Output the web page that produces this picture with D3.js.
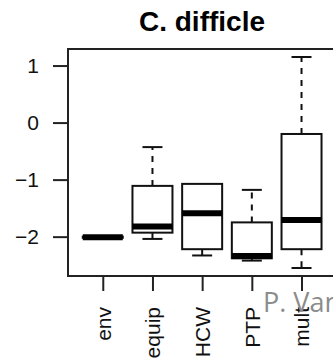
<!DOCTYPE html>
<html>
<head>
<meta charset="utf-8">
<script src="https://cdn.jsdelivr.net/npm/d3@7"></script>
<style>
  body { margin: 0; background: #fff; }
  svg { display: block; }
</style>
</head>
<body>
<script>
// box plot values
var categories = ["env", "equip", "HCW", "PTP", "mult"];
var lowWhisker = [-2.02, -2.04, -2.33, -2.42, -2.55];
var q1 = [-2.02, -1.93, -2.22, -2.38, -2.22];
var median = [-2.01, -1.82, -1.59, -2.34, -1.71];
var q3 = [-2.0, -1.11, -1.075, -1.75, -0.2];
var highWhisker = [-2.0, -0.43, -1.075, -1.18, 1.15];
var yTicks = [-2, -1, 0, 1];

var W = 333, H = 361;
var svg = d3.select("body").append("svg")
    .attr("width", W).attr("height", H);

var x = d3.scaleLinear().domain([0.3, 5.7]).range([68, 336.3]);
var y = d3.scaleLinear().domain([-2.69, 1.29]).range([276, 49]);
var halfW = 20;
var font = "Liberation Sans, Arial, sans-serif";

// title
svg.append("text")
    .attr("x", 202).attr("y", 31)
    .attr("text-anchor", "middle")
    .style("font-family", font)
    .style("font-weight", "bold")
    .style("font-size", "28px")
    .text("C. difficle");

// frame (right side is off the picture)
svg.append("rect")
    .attr("x", 68).attr("y", 49)
    .attr("width", 336.3 - 68).attr("height", 276 - 49)
    .attr("fill", "none").attr("stroke", "#222").attr("stroke-width", 2);

// y axis
var yAxis = svg.append("g")
    .attr("transform", "translate(68,0)")
    .call(d3.axisLeft(y).tickValues(yTicks).tickSize(15).tickPadding(14)
        .tickFormat(d3.format("d")));
yAxis.select(".domain").remove();
yAxis.selectAll("line").attr("stroke", "#222").attr("stroke-width", 2);
yAxis.selectAll("text")
    .style("font-family", font)
    .style("font-size", "21px").attr("fill", "#111");

// x axis, labels turned to read upwards
var xAxis = svg.append("g")
    .attr("transform", "translate(0,276)")
    .call(d3.axisBottom(x).tickValues([1, 2, 3, 4, 5]).tickSize(15)
        .tickFormat(function(d){ return categories[d - 1]; }));
xAxis.select(".domain").remove();
xAxis.selectAll("line").attr("stroke", "#222").attr("stroke-width", 2);
xAxis.selectAll("text")
    .attr("x", null).attr("y", null).attr("dy", "0.35em")
    .attr("transform", "translate(0,31) rotate(-90)")
    .attr("text-anchor", "end")
    .style("font-family", font)
    .style("font-size", "21px").attr("fill", "#111");

// boxes
var boxes = categories.map(function(c, i){
    return {i: i + 1, lo: lowWhisker[i], q1: q1[i], med: median[i], q3: q3[i], hi: highWhisker[i]};
});

var g = svg.append("g");
boxes.forEach(function(b){
    var cx = x(b.i);
    // whiskers
    if (b.hi > b.q3) {
        g.append("line").attr("x1", cx).attr("x2", cx)
            .attr("y1", y(b.q3)).attr("y2", y(b.hi))
            .attr("stroke", "#111").attr("stroke-width", 2).attr("stroke-dasharray", "6,6");
        g.append("line").attr("x1", cx - halfW / 2).attr("x2", cx + halfW / 2)
            .attr("y1", y(b.hi)).attr("y2", y(b.hi))
            .attr("stroke", "#111").attr("stroke-width", 2);
    }
    if (b.lo < b.q1) {
        g.append("line").attr("x1", cx).attr("x2", cx)
            .attr("y1", y(b.q1)).attr("y2", y(b.lo))
            .attr("stroke", "#111").attr("stroke-width", 2).attr("stroke-dasharray", "6,6");
        g.append("line").attr("x1", cx - halfW / 2).attr("x2", cx + halfW / 2)
            .attr("y1", y(b.lo)).attr("y2", y(b.lo))
            .attr("stroke", "#111").attr("stroke-width", 2);
    }
    // box
    g.append("rect")
        .attr("x", cx - halfW).attr("width", halfW * 2)
        .attr("y", y(b.q3)).attr("height", Math.max(0, y(b.q1) - y(b.q3)))
        .attr("fill", "#fff").attr("stroke", "#111").attr("stroke-width", 2);
    // median
    g.append("line").attr("x1", cx - halfW).attr("x2", cx + halfW)
        .attr("y1", y(b.med)).attr("y2", y(b.med))
        .attr("stroke", "#000").attr("stroke-width", 6);
});

// watermark
svg.append("text")
    .attr("x", 263).attr("y", 312)
    .style("font-family", "Open Sans, sans-serif")
    .style("font-size", "27px")
    .attr("fill", "#8c8c8c")
    .text("P. Van");
</script>
</body>
</html>
